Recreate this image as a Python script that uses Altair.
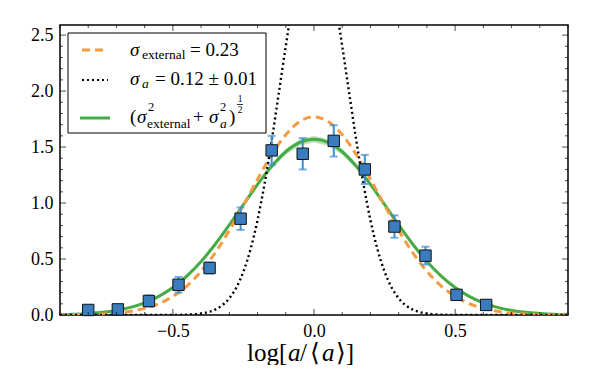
import altair as alt
import pandas as pd

# ---------------- data ----------------
grid = [-0.9, -0.85, -0.8, -0.75, -0.7, -0.65, -0.6, -0.55, -0.5, -0.45, -0.4, -0.35,
        -0.3, -0.25, -0.2, -0.15, -0.1, -0.05, 0.0, 0.05, 0.1, 0.15, 0.2, 0.25, 0.3,
        0.35, 0.4, 0.45, 0.5, 0.55, 0.6, 0.65, 0.7, 0.75, 0.8, 0.85, 0.9]
orange_external = [0.001, 0.002, 0.004, 0.009, 0.017, 0.033, 0.059, 0.101, 0.167, 0.261,
                   0.390, 0.556, 0.756, 0.980, 1.213, 1.431, 1.610, 1.729, 1.77, 1.729,
                   1.610, 1.431, 1.213, 0.980, 0.756, 0.556, 0.390, 0.261, 0.167, 0.101,
                   0.059, 0.033, 0.017, 0.009, 0.004, 0.002, 0.001]
green_total = [0.004, 0.007, 0.014, 0.024, 0.041, 0.068, 0.108, 0.166, 0.245, 0.349,
               0.478, 0.632, 0.804, 0.987, 1.166, 1.328, 1.458, 1.541, 1.57, 1.541,
               1.458, 1.328, 1.166, 0.987, 0.804, 0.632, 0.478, 0.349, 0.245, 0.166,
               0.108, 0.068, 0.041, 0.024, 0.014, 0.007, 0.004]
green_band = [0.0, 0.0, 0.001, 0.001, 0.001, 0.002, 0.002, 0.003, 0.004, 0.005, 0.006,
              0.007, 0.009, 0.012, 0.016, 0.021, 0.026, 0.029, 0.03, 0.029, 0.026, 0.021,
              0.016, 0.012, 0.009, 0.007, 0.006, 0.005, 0.004, 0.003, 0.002, 0.002,
              0.001, 0.001, 0.001, 0.0, 0.0]

dot_grid = [-0.9, -0.6, -0.5, -0.45, -0.425, -0.4, -0.375, -0.35, -0.325, -0.3, -0.275,
            -0.25, -0.225, -0.2, -0.175, -0.15, -0.125, -0.1, -0.075, -0.05, -0.025, 0.0,
            0.025, 0.05, 0.075, 0.1, 0.125, 0.15, 0.175, 0.2, 0.225, 0.25, 0.275, 0.3,
            0.325, 0.35, 0.375, 0.4, 0.425, 0.45, 0.5, 0.6, 0.9]
dot_sigma_a = [0.0, 0.0, 0.0006, 0.003, 0.006, 0.013, 0.026, 0.048, 0.087, 0.149, 0.246,
               0.388, 0.586, 0.848, 1.174, 1.557, 1.976, 2.402, 2.797, 3.117, 3.327, 3.40,
               3.327, 3.117, 2.797, 2.402, 1.976, 1.557, 1.174, 0.848, 0.586, 0.388, 0.246,
               0.149, 0.087, 0.048, 0.026, 0.013, 0.006, 0.003, 0.0006, 0.0, 0.0]

pts_x = [-0.80, -0.695, -0.585, -0.48, -0.37, -0.26, -0.15, -0.04, 0.07, 0.18, 0.285,
         0.395, 0.505, 0.61]
pts_y = [0.045, 0.05, 0.125, 0.27, 0.42, 0.86, 1.47, 1.44, 1.555, 1.30, 0.79, 0.53,
         0.18, 0.09]
pts_err = [0.02, 0.02, 0.05, 0.07, 0.05, 0.10, 0.13, 0.14, 0.14, 0.13, 0.10, 0.08,
           0.04, 0.03]

x_major = [-0.5, 0.0, 0.5]
x_minor = [-0.9, -0.8, -0.7, -0.6, -0.4, -0.3, -0.2, -0.1, 0.1, 0.2, 0.3, 0.4, 0.6,
           0.7, 0.8, 0.9]
y_major = [0.0, 0.5, 1.0, 1.5, 2.0, 2.5]
y_minor = [0.1, 0.2, 0.3, 0.4, 0.6, 0.7, 0.8, 0.9, 1.1, 1.2, 1.3, 1.4, 1.6, 1.7, 1.8,
           1.9, 2.1, 2.2, 2.3, 2.4]

# ---------------- tables ----------------
curves = pd.DataFrame({"x": grid, "orange": orange_external, "green": green_total,
                       "lo": [g - b for g, b in zip(green_total, green_band)],
                       "hi": [g + b for g, b in zip(green_total, green_band)]})
dotted = pd.DataFrame({"x": dot_grid, "y": dot_sigma_a})
pts = pd.DataFrame({"x": pts_x, "y": pts_y,
                    "lo": [v - e for v, e in zip(pts_y, pts_err)],
                    "hi": [v + e for v, e in zip(pts_y, pts_err)]})

W, H = 508, 290
SERIF = "Liberation Serif, DejaVu Serif, serif"
ORANGE = "#f59c42"
GREEN = "#45ab45"
BLUE_FILL = "#3a7dbf"
BLUE_ERR = "#3d8fd4"

xscale = alt.Scale(domain=[-0.9, 0.9], nice=False, zero=False)
yscale = alt.Scale(domain=[0, 2.59], nice=False, zero=False)
xaxis = alt.Axis(values=x_major, format=".1f", title=None, ticks=False, tickSize=0,
                 domain=False, grid=False, labelFont=SERIF, labelFontSize=18,
                 labelColor="black", labelPadding=7)
yaxis = alt.Axis(values=y_major, format=".1f", title=None, ticks=False, tickSize=0,
                 domain=False, grid=False, labelFont=SERIF, labelFontSize=18,
                 labelColor="black", labelPadding=7)


def X(f):
    return alt.X(f, type="quantitative", scale=xscale, axis=xaxis)


def Y(f):
    return alt.Y(f, type="quantitative", scale=yscale, axis=yaxis)


band = alt.Chart(curves).mark_area(color=GREEN, opacity=0.35, clip=True).encode(
    x=X("x"), y=Y("lo"), y2="hi")
green_line = alt.Chart(curves).mark_line(color=GREEN, strokeWidth=3, interpolate="monotone",
                                         clip=True).encode(x=X("x"), y=Y("green"))
orange_line = alt.Chart(curves).mark_line(color=ORANGE, strokeWidth=3, strokeDash=[8, 5],
                                          interpolate="monotone", clip=True).encode(
    x=X("x"), y=Y("orange"))
dot_line = alt.Chart(dotted).mark_line(color="black", strokeWidth=2.4, strokeDash=[2, 3],
                                       interpolate="monotone", clip=True).encode(
    x=X("x"), y=Y("y"))

err_rule = alt.Chart(pts).mark_rule(color=BLUE_ERR, strokeWidth=2).encode(
    x=X("x"), y=Y("lo"), y2="hi")
cap_lo = alt.Chart(pts).mark_tick(color=BLUE_ERR, orient="horizontal", size=8,
                                  thickness=2).encode(x=X("x"), y=Y("lo"))
cap_hi = alt.Chart(pts).mark_tick(color=BLUE_ERR, orient="horizontal", size=8,
                                  thickness=2).encode(x=X("x"), y=Y("hi"))
squares = alt.Chart(pts).mark_square(size=130, fill=BLUE_FILL, fillOpacity=1,
                                     stroke="#111111", strokeWidth=1).encode(
    x=X("x"), y=Y("y"))


# inward ticks on all four sides
def xticks(vals, y, size):
    return alt.Chart(pd.DataFrame({"v": vals})).mark_tick(
        orient="vertical", color="black", size=size, thickness=1).encode(
        x=X("v"), y=alt.value(y))


def yticks(vals, x, size):
    return alt.Chart(pd.DataFrame({"v": vals})).mark_tick(
        orient="horizontal", color="black", size=size, thickness=1).encode(
        y=Y("v"), x=alt.value(x))


tick_layers = [
    xticks(x_major, H - 3, 6), xticks(x_minor, H - 1.5, 3),
    xticks(x_major, 3, 6), xticks(x_minor, 1.5, 3),
    yticks(y_major, 3, 6), yticks(y_minor, 1.5, 3),
    yticks(y_major, W - 3, 6), yticks(y_minor, W - 1.5, 3),
]

ONE = alt.Data(values=[{}])


def txt(s, x, y, size=19, italic=False, align="left"):
    return alt.Chart(ONE).mark_text(
        text=s, font=SERIF, fontSize=size, fontStyle="italic" if italic else "normal",
        align=align, baseline="alphabetic", color="black").encode(
        x=alt.value(x), y=alt.value(y))


def sample(x1, x2, y, color, dash, width):
    return alt.Chart(ONE).mark_rule(color=color, strokeWidth=width, strokeDash=dash).encode(
        x=alt.value(x1), x2=alt.value(x2), y=alt.value(y))


legend_box = alt.Chart(ONE).mark_rect(fill="white", stroke="black", strokeWidth=1).encode(
    x=alt.value(8), x2=alt.value(206), y=alt.value(8), y2=alt.value(108))

legend = [
    legend_box,
    sample(22, 45, 25, ORANGE, [8, 5], 3),
    sample(22, 48, 55, "black", [2, 3], 2.2),
    sample(20, 50, 93, GREEN, [1, 0], 3),
    # row 1
    txt("σ", 70, 31, italic=True), txt("external", 82, 34, size=13.5),
    txt("= 0.23", 130, 31),
    # row 2
    txt("σ", 70, 60, italic=True), txt("a", 82, 63, size=13.5, italic=True),
    txt("= 0.12 ± 0.01", 95, 60),
    # row 3
    txt("(", 70, 98), txt("σ", 77, 98, italic=True),
    txt("2", 88, 86, size=12.5), txt("external", 87, 103, size=13.5),
    txt("+", 133, 98), txt("σ", 149, 98, italic=True),
    txt("2", 160, 86, size=12.5), txt("a", 160, 103, size=13.5, italic=True),
    txt(")", 169, 98),
    txt("1", 180, 77, size=9.5, align="center"),
    sample(177, 183, 79.5, "black", [1, 0], 0.8),
    txt("2", 180, 88, size=9.5, align="center"),
]

xtitle = [
    txt("log[", 187, 336, size=25), txt("a", 228, 336, size=25, italic=True),
    txt("/", 240, 336, size=25), txt("⟨", 250, 336, size=25),
    txt("a", 262, 336, size=25, italic=True), txt("⟩]", 276, 336, size=25),
]

chart = alt.layer(
    band, green_line, orange_line, dot_line, err_rule, cap_lo, cap_hi, squares,
    *tick_layers, *legend, *xtitle
).properties(
    width=W, height=H,
    autosize=alt.AutoSizeParams(type="none"),
    padding={"left": 52, "top": 17, "right": 24, "bottom": 50},
).configure_view(stroke="black", strokeWidth=1.5)

chart.save("out.html", embed_options={"renderer": "svg", "actions": False})
